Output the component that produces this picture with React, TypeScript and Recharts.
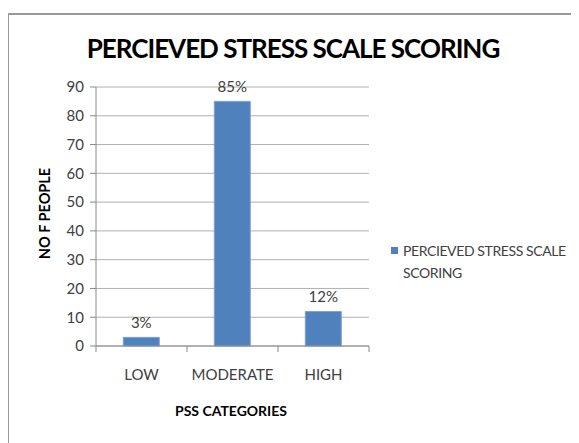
import { BarChart, Bar, XAxis, YAxis, CartesianGrid, LabelList } from 'recharts';

const categories = ['LOW', 'MODERATE', 'HIGH'];
const people = [3, 85, 12];
const percentLabels = ['3%', '85%', '12%'];
const yTicks = [0, 10, 20, 30, 40, 50, 60, 70, 80, 90];

const SERIES = 'PERCIEVED STRESS SCALE SCORING';
const data = categories.map((c, i) => ({ cat: c, value: people[i], pct: percentLabels[i] }));

const FONT = 'Lato, "Open Sans", sans-serif';
const AXIS = '#8a8a8a';
const BLUE = '#4f81bd';
const HALF_BAND = 273 / categories.length / 2;

function CatTick(props: any) {
  const { x, y, payload, index } = props;
  const last = index === categories.length - 1;
  return (
    <g>
      <line x1={x - HALF_BAND} x2={x - HALF_BAND} y1={y} y2={y + 6} stroke={AXIS} />
      {last && <line x1={x + HALF_BAND} x2={x + HALF_BAND} y1={y} y2={y + 6} stroke={AXIS} />}
      <text x={x} y={y + 34} textAnchor="middle" fill="#404040" fontSize={15} fontFamily={FONT}>{payload.value}</text>
    </g>
  );
}

function LegendBox() {
  return (
    <div style={{ position: 'absolute', left: 383, top: 232, fontFamily: FONT, fontSize: 14, letterSpacing: -0.4, color: '#404040', lineHeight: '22px', paddingLeft: 12, whiteSpace: 'nowrap' }}>
      <span style={{ position: 'absolute', left: 0, top: 7, width: 7, height: 7, background: BLUE }} />
      PERCIEVED STRESS SCALE<br />SCORING
    </div>
  );
}

export default function App() {
  return (
    <div style={{ position: 'relative', width: 571, height: 435 }}>
      <div style={{ position: 'absolute', left: -1, top: 5, width: 580, height: 440, borderLeft: '2px solid #999', borderTop: '2px solid #999' }} />
      <div style={{ position: 'absolute', left: 0, width: 570, top: 24, textAlign: 'center', fontFamily: FONT, fontWeight: 700, fontSize: 26, color: '#000', letterSpacing: -1 }}>
        {SERIES}
      </div>
      <div style={{ position: 'absolute', left: 36 - 60, top: 207 - 10, width: 120, textAlign: 'center', transform: 'rotate(-90deg)', fontFamily: FONT, fontWeight: 700, fontSize: 14.5, color: '#000' }}>
        NO F PEOPLE
      </div>
      <div style={{ position: 'absolute', left: 163, top: 394, width: 120, textAlign: 'center', fontFamily: FONT, fontWeight: 700, fontSize: 14, color: '#000' }}>
        PSS CATEGORIES
      </div>
      <BarChart width={571} height={435} data={data} margin={{ top: 79, right: 210, bottom: 67, left: 0 }} barCategoryGap="30%">
        <CartesianGrid vertical={false} stroke="#b0b0b0" />
        <XAxis dataKey="cat" height={30} tickSize={0} tickMargin={0} tickLine={false} stroke={AXIS} tick={<CatTick />} interval={0} />
        <YAxis width={88} domain={[0, 90]} ticks={yTicks} stroke={AXIS} tickSize={6} tickMargin={6} tick={{ fill: '#404040', fontSize: 15, fontFamily: FONT }} />
        <Bar dataKey="value" name={SERIES} fill={BLUE} stroke="#7fa2d4" strokeWidth={1} isAnimationActive={false}>
          <LabelList dataKey="pct" position="top" offset={9} fill="#404040" fontSize={15} fontFamily={FONT} />
        </Bar>
      </BarChart>
      <LegendBox />
    </div>
  );
}
